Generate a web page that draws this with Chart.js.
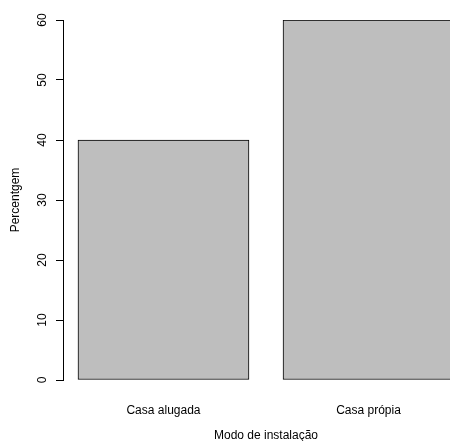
<!DOCTYPE html>
<html>
<head>
<meta charset="utf-8">
<script src="https://cdn.jsdelivr.net/npm/chart.js@4"></script>
<style>
  html, body { margin: 0; padding: 0; background: #fff; overflow: hidden; }
</style>
</head>
<body>
<canvas id="barras" width="470" height="441"></canvas>
<script>
// dados
var categorias = ['Casa alugada', 'Casa própia'];
var percentagens = [40, 60];
var centros = [0.7, 1.9];          // meio de cada barra (como no barplot do R)
var yTicks = [0, 10, 20, 30, 40, 50, 60];

var fonte = { family: 'Liberation Sans, Arial, Helvetica, sans-serif', size: 12 };

var pontos = [];
for (i = 0; i < categorias.length; i++) {
    pontos.push({ x: centros[i], y: percentagens[i] });
}

var grafico = new Chart(document.getElementById('barras'), {
    type: 'bar',
    data: {
        datasets: [{
            data: pontos,
            backgroundColor: '#bebebe',
            borderColor: '#000',
            borderWidth: 1,
            barThickness: 171,
            borderSkipped: false
        }]
    },
    options: {
        responsive: false,
        animation: false,
        layout: { padding: { top: 20, right: 1, bottom: 0, left: 0 } },
        plugins: { legend: { display: false }, tooltip: { enabled: false } },
        scales: {
            x: {
                type: 'linear',
                min: 0.112,
                max: 2.488,
                offset: false,
                grid: { display: false, offset: false },
                border: { display: false },
                afterBuildTicks: function (s) { s.ticks = centros.map(function (v) { return { value: v }; }); },
                afterFit: function (s) { s.height = 61; },
                ticks: {
                    color: '#000',
                    font: fonte,
                    padding: 15,
                    maxRotation: 0,
                    autoSkip: false,
                    callback: function (v, i) { return categorias[i]; }
                },
                title: { display: true, text: 'Modo de instalação', color: '#000', font: fonte, padding: { top: 0, bottom: -2 } }
            },
            y: {
                min: 0,
                max: 60,
                afterBuildTicks: function (s) { s.ticks = yTicks.map(function (v) { return { value: v }; }); },
                afterFit: function (s) { s.width = 63; },
                grid: { drawOnChartArea: false, drawTicks: true, tickLength: 7, color: '#000', lineWidth: 1 },
                border: { display: true, color: '#000', width: 1 },
                ticks: {
                    color: '#000',
                    font: fonte,
                    minRotation: 90,
                    maxRotation: 90,
                    crossAlign: 'center',
                    padding: 7
                },
                title: { display: true, text: 'Percentgem', color: '#000', font: fonte, padding: { top: 8, bottom: 0 } }
            }
        }
    }
});
</script>
</body>
</html>
